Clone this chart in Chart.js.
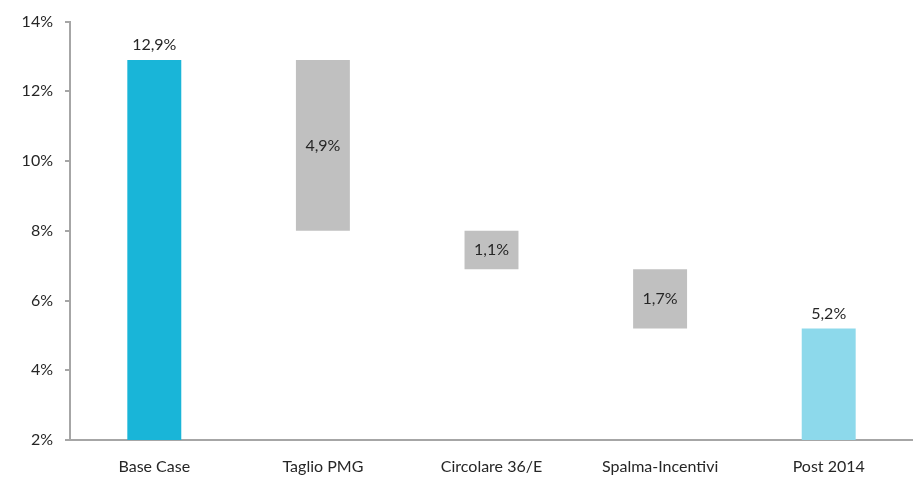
<!DOCTYPE html>
<html>
<head>
<meta charset="utf-8">
<script src="https://cdn.jsdelivr.net/npm/chart.js@4/dist/chart.umd.min.js"></script>
<style>
  html, body { margin: 0; padding: 0; background: #fff; }
  #wrap { width: 913px; height: 482px; }
</style>
</head>
<body>
<div id="wrap"><canvas id="waterfall"></canvas></div>
<script>
// data
var categories = ["Base Case", "Taglio PMG", "Circolare 36/E", "Spalma-Incentivi", "Post 2014"];
var barStarts = [2, 8.0, 6.9, 5.2, 2];
var barEnds = [12.9, 12.9, 8.0, 6.9, 5.2];
var barKinds = ["total", "step", "step", "step", "total"];
var yTicks = [2, 4, 6, 8, 10, 12, 14];

var kindColor = { total: "#19b5d8", step: "#c0c0c0" };
var colors = barKinds.map(function (k, i) {
    return i === barKinds.length - 1 ? "#8dd9eb" : kindColor[k];
});

function fmt(v) {
    return v.toFixed(1).replace(".", ",") + "%";
}

var valueLabels = {
    id: "valueLabels",
    afterDatasetsDraw: function (chart) {
        var ctx = chart.ctx;
        var meta = chart.getDatasetMeta(0);
        ctx.save();
        ctx.font = "16px Lato";
        ctx.fillStyle = "#262626";
        ctx.textAlign = "center";
        meta.data.forEach(function (bar, i) {
            var p = bar.getProps(["x", "y", "base"], true);
            if (barKinds[i] === "total") {
                ctx.textBaseline = "bottom";
                ctx.fillText(fmt(barEnds[i]), p.x, p.y - 7);
            } else {
                ctx.textBaseline = "middle";
                ctx.fillText(fmt(barEnds[i] - barStarts[i]), p.x, (p.y + p.base) / 2);
            }
        });
        ctx.restore();
    }
};

new Chart(document.getElementById("waterfall"), {
    type: "bar",
    data: {
        labels: categories,
        datasets: [{
            data: categories.map(function (c, i) { return [barStarts[i], barEnds[i]]; }),
            backgroundColor: colors,
            borderWidth: 0,
            barPercentage: 0.64,
            categoryPercentage: 0.5
        }]
    },
    options: {
        responsive: true,
        maintainAspectRatio: false,
        animation: false,
        layout: { padding: { top: 11, right: 0, bottom: 0, left: 0 } },
        plugins: { legend: { display: false }, tooltip: { enabled: false } },
        scales: {
            x: {
                grid: { display: false, drawTicks: false },
                border: { color: "#a6a6a6", width: 2 },
                ticks: { color: "#262626", font: { family: "Lato", size: 16 }, padding: 17 },
                afterFit: function (s) { s.height = 42; }
            },
            y: {
                min: 2,
                max: 14,
                afterBuildTicks: function (s) {
                    s.ticks = yTicks.map(function (v) { return { value: v }; });
                },
                grid: { drawOnChartArea: false, tickLength: 5, color: "#a6a6a6", lineWidth: 2 },
                border: { color: "#a6a6a6", width: 2 },
                ticks: {
                    color: "#262626",
                    font: { family: "Lato", size: 16 },
                    padding: 12,
                    callback: function (v) { return v + "%"; }
                },
                afterFit: function (s) { s.width = 70; }
            }
        }
    },
    plugins: [valueLabels]
});
</script>
</body>
</html>
